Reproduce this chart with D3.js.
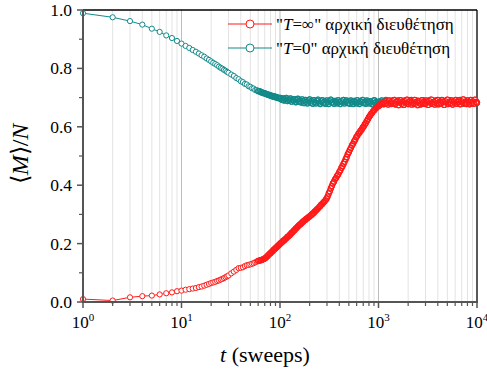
<!DOCTYPE html>
<html><head><meta charset="utf-8">
<script src="https://cdn.jsdelivr.net/npm/d3@7"></script>
</head><body style="margin:0">
<svg id="c" width="487" height="375"><style>text{font-family:"Liberation Serif",serif;}</style></svg>
<script>
const tValues = [1,2,3,4,5,6,7,8,9,10,11,12,13,14,15,16,17,18,19,20,21,22,23,24,25,26,27,28,29,30,
32,34,36,38,40,42,44,46,48,50,52,54,56,58,60,62,64,66,68,70,72,74,76,78,80,82,84,86,88,90,92,94,96,98,100,
102,105,108,110,113,116,119,122,125,128,131,134,138,
141,145,148,152,156,160,164,168,172,176,
181,185,190,195,200,205,210,215,220,226,
232,237,243,250,256,262,269,276,282,290,
297,304,312,320,328,336,344,353,362,371,
380,390,400,410,420,430,441,452,464,475,
487,500,512,525,538,552,566,580,594,609,
625,640,656,673,690,707,725,743,762,781,
800,820,841,862,884,906,929,952,976,1000,
1020,1050,1080,1100,1130,1160,1190,1220,1250,1280,1310,1340,1380,
1410,1450,1480,1520,1560,1600,1640,1680,1720,1760,
1810,1850,1900,1950,2000,2050,2100,2150,2200,2260,
2320,2370,2430,2500,2560,2620,2690,2760,2820,2900,
2970,3040,3120,3200,3280,3360,3440,3530,3620,3710,
3800,3900,4000,4100,4200,4300,4410,4520,4640,4750,
4870,5000,5120,5250,5380,5520,5660,5800,5940,6090,
6250,6400,6560,6730,6900,7070,7250,7430,7620,7810,
8000,8200,8410,8620,8840,9060,9290,9520,9760,10000];

const magT0 = [0.989,0.975,0.962,0.950,0.936,0.925,0.913,0.904,0.894,0.885,0.877,0.870,0.863,0.857,0.851,0.845,0.840,0.834,0.829,0.824,0.819,0.815,0.811,0.806,0.802,0.799,0.795,0.792,0.788,0.785,
0.779,0.774,0.767,0.763,0.756,0.753,0.747,0.745,0.739,0.737,0.732,0.731,0.726,0.726,0.722,0.722,0.718,0.718,0.715,0.715,0.712,0.712,0.709,0.709,0.706,0.707,0.704,0.705,0.702,0.703,0.700,0.701,0.698,0.699,0.697,
0.699,0.692,0.697,0.690,0.695,0.699,0.688,0.694,0.690,0.697,0.686,0.693,0.689,
0.695,0.684,0.691,0.696,0.686,0.690,0.683,0.694,0.688,0.681,
0.692,0.686,0.680,0.690,0.694,0.682,0.688,0.679,0.691,0.685,
0.680,0.689,0.693,0.683,0.678,0.687,0.691,0.681,0.686,0.679,
0.690,0.684,0.678,0.688,0.693,0.682,0.686,0.679,0.689,0.684,
0.680,0.691,0.685,0.678,0.688,0.683,0.692,0.680,0.686,0.690,
0.681,0.687,0.679,0.690,0.684,0.678,0.689,0.685,0.680,0.691,
0.683,0.678,0.688,0.684,0.692,0.681,0.686,0.679,0.690,0.685,
0.680,0.688,0.683,0.677,0.687,0.691,0.681,0.685,0.678,0.686,
0.686,0.679,0.690,0.683,0.677,0.688,0.692,0.681,0.685,0.678,0.689,0.684,0.680,
0.691,0.683,0.677,0.687,0.682,0.690,0.679,0.685,0.688,0.676,
0.684,0.690,0.680,0.686,0.678,0.689,0.683,0.692,0.681,0.677,
0.687,0.682,0.690,0.679,0.685,0.688,0.677,0.684,0.691,0.680,
0.686,0.678,0.689,0.683,0.680,0.692,0.684,0.679,0.687,0.682,
0.690,0.677,0.685,0.688,0.681,0.684,0.692,0.679,0.686,0.683,
0.678,0.689,0.684,0.680,0.691,0.685,0.677,0.688,0.682,0.690,
0.681,0.686,0.679,0.692,0.684,0.678,0.688,0.683,0.690,0.680,
0.687,0.682,0.678,0.689,0.685,0.691,0.680,0.684,0.688,0.683];

const magTinf = [0.010,0.005,0.016,0.020,0.022,0.026,0.030,0.033,0.037,0.039,0.042,0.044,0.046,0.048,0.051,0.053,0.056,0.059,0.062,0.065,0.067,0.069,0.072,0.074,0.077,0.079,0.082,0.085,0.088,0.091,
0.098,0.104,0.110,0.116,0.117,0.119,0.123,0.126,0.127,0.129,0.131,0.133,0.136,0.138,0.141,0.142,0.143,0.145,0.147,0.149,0.152,0.156,0.160,0.164,0.167,0.171,0.174,0.178,0.181,0.184,0.187,0.190,0.193,0.196,0.199,
0.202,0.205,0.210,0.211,0.215,0.218,0.223,0.225,0.229,0.232,0.237,0.239,0.244,
0.247,0.252,0.254,0.259,0.262,0.266,0.268,0.273,0.275,0.279,
0.281,0.285,0.287,0.291,0.293,0.297,0.299,0.303,0.305,0.310,
0.313,0.317,0.320,0.325,0.328,0.333,0.336,0.341,0.344,0.349,
0.354,0.361,0.371,0.379,0.389,0.397,0.406,0.412,0.420,0.425,
0.432,0.437,0.445,0.451,0.459,0.465,0.473,0.480,0.489,0.496,
0.506,0.513,0.521,0.528,0.536,0.542,0.550,0.556,0.564,0.569,
0.576,0.580,0.586,0.590,0.597,0.601,0.608,0.613,0.620,0.626,
0.633,0.638,0.644,0.648,0.654,0.657,0.662,0.665,0.669,0.671,
0.673,0.676,0.679,0.681,0.684,0.679,0.687,0.682,0.676,0.690,0.683,0.678,0.688,
0.681,0.692,0.677,0.685,0.689,0.674,0.683,0.691,0.679,0.686,
0.675,0.688,0.682,0.693,0.678,0.684,0.690,0.676,0.687,0.681,
0.692,0.679,0.685,0.674,0.689,0.683,0.677,0.691,0.680,0.686,
0.678,0.690,0.684,0.675,0.688,0.682,0.693,0.679,0.685,0.676,
0.689,0.681,0.692,0.677,0.686,0.680,0.691,0.684,0.675,0.688,
0.683,0.693,0.678,0.686,0.680,0.690,0.676,0.687,0.682,0.692,
0.679,0.685,0.691,0.677,0.688,0.683,0.694,0.680,0.686,0.678,
0.690,0.684,0.677,0.692,0.681,0.687,0.679,0.693,0.685,0.682];

const xTickExponents = [0,1,2,3,4];
const yTickLabels = ["0.0","0.2","0.4","0.6","0.8","1.0"];
const legendNames = ['"T=∞" αρχική διευθέτηση','"T=0" αρχική διευθέτηση'];
const colors = {tinf:"#ff1a1a", t0:"#138a8a"};
const FONT = '"Liberation Serif"';

const svg = d3.select("#c");
function serif(sel){ return sel.attr("font-family", "Liberation Serif, serif").style("font-family", FONT); }

const L = 83, R = 477, T = 10, B = 302;
const x = d3.scaleLog().domain([1,10000]).range([L,R]);
const y = d3.scaleLinear().domain([0,1]).range([B,T]);

// text first (as in the working font test), marks afterwards underneath via insert
const textG = svg.append("g").attr("id","texts");
const gridG = svg.insert("g","#texts");
const dataG = svg.insert("g","#texts");
const axisG = svg.insert("g","#texts");

// vertical grid
const minorT = [];
for (let e=0;e<4;e++) for (let m=2;m<=9;m++) minorT.push(m*Math.pow(10,e));
gridG.selectAll("line.mn").data(minorT).join("line").attr("class","mn")
  .attr("x1",d=>x(d)).attr("x2",d=>x(d)).attr("y1",T).attr("y2",B)
  .attr("stroke","#e3e3e3").attr("stroke-width",1);
gridG.selectAll("line.mj").data([10,100,1000]).join("line").attr("class","mj")
  .attr("x1",d=>x(d)).attr("x2",d=>x(d)).attr("y1",T).attr("y2",B)
  .attr("stroke","#bdbdbd").attr("stroke-width",1);
gridG.append("line").attr("x1",L).attr("x2",R).attr("y1",T).attr("y2",T).attr("stroke","#000").attr("stroke-width",1.3);
gridG.append("line").attr("x1",R).attr("x2",R).attr("y1",T).attr("y2",B).attr("stroke","#000").attr("stroke-width",1.3);

// data
function drawSeries(vals,col){
  const pts = tValues.map((t,i)=>[t,vals[i]]);
  const g = dataG.append("g");
  g.append("path").datum(pts).attr("fill","none").attr("stroke",col).attr("stroke-width",1)
    .attr("d",d3.line().x(d=>x(d[0])).y(d=>y(d[1])));
  g.selectAll("circle.m").data(pts).join("circle").attr("class","m")
    .attr("cx",d=>x(d[0])).attr("cy",d=>y(d[1])).attr("r",2.6)
    .attr("fill","#fff").attr("stroke",col).attr("stroke-width",1);
  g.selectAll("circle.o").data(pts.filter(d=>d[0]>=60)).join("circle").attr("class","o")
    .attr("cx",d=>x(d[0])).attr("cy",d=>y(d[1])).attr("r",2.6)
    .attr("fill","none").attr("stroke",col).attr("stroke-width",1.1);
}
drawSeries(magT0,colors.t0);
drawSeries(magTinf,colors.tinf);

// axes
const axisCol = "#555";
axisG.append("line").attr("x1",L-1).attr("x2",R+1).attr("y1",B).attr("y2",B).attr("stroke",axisCol).attr("stroke-width",2);
axisG.selectAll("line.xmj").data(xTickExponents).join("line").attr("class","xmj")
  .attr("x1",d=>x(Math.pow(10,d))).attr("x2",d=>x(Math.pow(10,d))).attr("y1",B).attr("y2",B+6)
  .attr("stroke",axisCol).attr("stroke-width",1.5);
axisG.selectAll("line.xmn").data(minorT).join("line").attr("class","xmn")
  .attr("x1",d=>x(d)).attr("x2",d=>x(d)).attr("y1",B).attr("y2",B+4)
  .attr("stroke",axisCol).attr("stroke-width",1.2);
axisG.append("line").attr("x1",L).attr("x2",L).attr("y1",T).attr("y2",B+1).attr("stroke",axisCol).attr("stroke-width",2);
axisG.selectAll("line.ymj").data(yTickLabels).join("line").attr("class","ymj")
  .attr("x1",L-6).attr("x2",L).attr("y1",d=>y(+d)).attr("y2",d=>y(+d))
  .attr("stroke",axisCol).attr("stroke-width",1.5);
axisG.selectAll("line.ymn").data([0.1,0.3,0.5,0.7,0.9]).join("line").attr("class","ymn")
  .attr("x1",L-4).attr("x2",L).attr("y1",d=>y(d)).attr("y2",d=>y(d))
  .attr("stroke",axisCol).attr("stroke-width",1.2);

// legend marks
const legY = [24,48];
const legCols = [colors.tinf, colors.t0];
legendNames.forEach((name,i)=>{
  axisG.append("line").attr("x1",228).attr("x2",272).attr("y1",legY[i]).attr("y2",legY[i]).attr("stroke",legCols[i]).attr("stroke-width",1);
  axisG.append("circle").attr("cx",250).attr("cy",legY[i]).attr("r",4).attr("fill","#fff").attr("stroke",legCols[i]).attr("stroke-width",1);
});

// texts
xTickExponents.forEach(d=>{
  const t = serif(textG.append("text")).attr("x",x(Math.pow(10,d))).attr("y",B+26).attr("font-size",17)
    .attr("text-anchor","middle");
  t.append("tspan").text("10");
  t.append("tspan").attr("dy",-7).attr("font-size",11).text(d);
});
yTickLabels.forEach(d=>{
  serif(textG.append("text")).attr("x",L-11).attr("y",y(+d)+6).attr("font-size",17.5)
    .attr("text-anchor","end").text(d);
});

const yt = serif(textG.append("text")).attr("transform","translate(28,154) rotate(-90)")
  .attr("text-anchor","middle").attr("font-size",24);
yt.append("tspan").text("⟨");
yt.append("tspan").attr("font-style","italic").text("M");
yt.append("tspan").text("⟩/");
yt.append("tspan").attr("font-style","italic").text("N");

const xt = serif(textG.append("text")).attr("x",265).attr("y",362).attr("text-anchor","middle").attr("font-size",22);
xt.append("tspan").attr("font-style","italic").text("t");
xt.append("tspan").text(" (sweeps)");

legendNames.forEach((name,i)=>{
  const tx = serif(textG.append("text")).attr("x",276).attr("y",legY[i]+5.5).attr("font-size",17);
  const m = name.match(/^"T(.*)$/);
  tx.append("tspan").text('"');
  tx.append("tspan").attr("font-style","italic").text("T");
  tx.append("tspan").text(m[1]);
});
</script></body></html>
